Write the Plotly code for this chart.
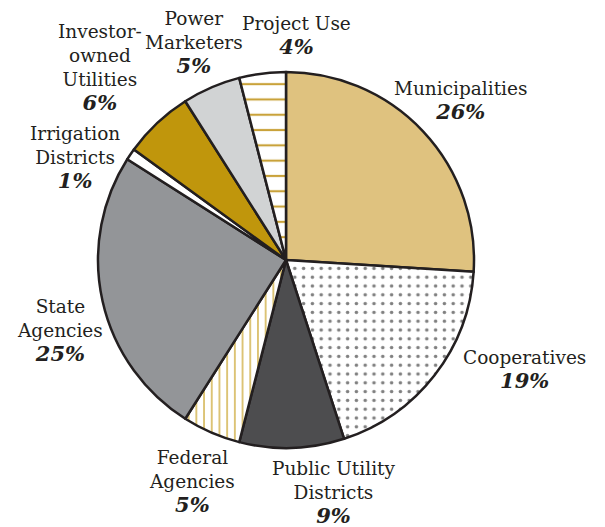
import math
import plotly.graph_objects as go

# ---- data ----
categories = ["Municipalities", "Cooperatives", "Public Utility Districts",
              "Federal Agencies", "State Agencies", "Irrigation Districts",
              "Investor-owned Utilities", "Power Marketers", "Project Use"]
display_labels = ["Municipalities", "Cooperatives", "Public Utility<br>Districts",
                  "Federal<br>Agencies", "State<br>Agencies", "Irrigation<br>Districts",
                  "Investor-<br>owned<br>Utilities", "Power<br>Marketers", "Project Use"]
shares = [26, 19, 9, 5, 25, 1, 6, 5, 4]

# ---- styles ----
W, H = 605, 527
CX, CY, R = 286, 260, 188
INK = "#231f20"
fill_colors = ["#DFC27F", "#FFFFFF", "#4D4D4F", "#FFFFFF", "#939598",
               "#FFFFFF", "#C0960C", "#D1D3D4", "#FFFFFF"]
pat_shapes = ["", ".", "", "|", "", "", "", "", "-"]
pat_fg = ["#000", "#7F7F7F", "#000", "#C9A227", "#000", "#000", "#000", "#000", "#C9A23A"]
pat_size = [8, 8.8, 8, 7.7, 8, 8, 8, 8, 15.3]
pat_solid = [0.3, 0.13, 0.3, 0.16, 0.3, 0.3, 0.3, 0.3, 0.14]
# label placement: angular shift (deg) from slice mid-angle and radius (px)
lab_shift = [1, -13, -9.6, -0.5, -4.8, -8.4, -0.9, 0.4, 9.8]
lab_radius = [236, 263, 238, 241, 237, 234, 267, 236, 224]

fig = go.Figure(go.Pie(
    labels=categories, values=shares, sort=False, direction="clockwise", rotation=0,
    textinfo="none", hoverinfo="label+percent",
    marker=dict(colors=fill_colors, line=dict(color=INK, width=2.5),
                pattern=dict(shape=pat_shapes, fgcolor=pat_fg, bgcolor=fill_colors,
                             size=pat_size, solidity=pat_solid, fillmode="replace")),
    domain=dict(x=[(CX - R) / W, (CX + R) / W], y=[1 - (CY + R) / H, 1 - (CY - R) / H]),
))

total = sum(shares)
cum = 0
for i, v in enumerate(shares):
    mid = (cum + v / 2) / total * 360
    cum += v
    a = math.radians(mid + lab_shift[i])
    px = CX + lab_radius[i] * math.sin(a)
    py = CY - lab_radius[i] * math.cos(a)
    fig.add_annotation(
        x=px / W, y=1 - py / H, xref="paper", yref="paper",
        xanchor="center", yanchor="middle", showarrow=False, align="center",
        text=f"{display_labels[i]}<br><span style='font-size:21px'><b><i>{v}%</i></b></span>",
        font=dict(family="DejaVu Serif", size=18.5, color=INK),
    )

fig.update_layout(width=W, height=H, margin=dict(l=0, r=0, t=0, b=0),
                  showlegend=False, paper_bgcolor="white", plot_bgcolor="white")
fig.write_html("out.html", config={"displayModeBar": False},
               post_script="document.body.style.margin='0';")
